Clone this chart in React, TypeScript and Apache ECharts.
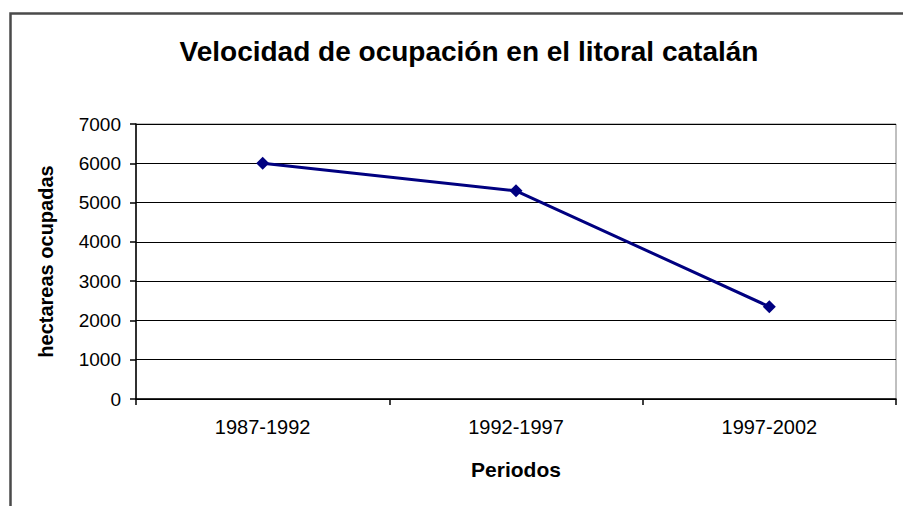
import React, { useEffect, useRef } from "react";
import * as echarts from "echarts";

const titleText = "Velocidad de ocupación en el litoral catalán";
const categories = ["1987-1992", "1992-1997", "1997-2002"];
const hectareas = [6000, 5300, 2350];
const yAxisName = "hectareas ocupadas";
const xAxisName = "Periodos";

const FONT = "'Liberation Sans', Arial, sans-serif";

export default function App() {
  const ref = useRef<HTMLDivElement>(null);
  useEffect(() => {
    if (!ref.current) return;
    const chart = echarts.init(ref.current, null, { renderer: "svg" });
    chart.setOption({
      animation: false,
      backgroundColor: "#ffffff",
      title: {
        text: titleText,
        left: 464,
        top: 32,
        textAlign: "center",
        textStyle: { fontFamily: FONT, fontSize: 28, fontWeight: "bold", color: "#000" },
      },
      graphic: [
        {
          type: "rect",
          shape: { x: 10.5, y: 13.5, width: 1000, height: 1000 },
          style: { fill: "none", stroke: "#4a4a4a", lineWidth: 2.5 },
          silent: true,
        },
      ],
      grid: {
        left: 136,
        right: 7,
        top: 124,
        bottom: 107,
        show: true,
        borderColor: "#808080",
        borderWidth: 1,
        backgroundColor: "transparent",
      },
      xAxis: {
        type: "category",
        data: categories,
        boundaryGap: true,
        name: xAxisName,
        nameLocation: "middle",
        nameGap: 60,
        nameTextStyle: { fontFamily: FONT, fontSize: 21, fontWeight: "bold", color: "#000" },
        axisLine: { show: true, lineStyle: { color: "#000", width: 1.5 } },
        axisTick: { show: true, length: 6, lineStyle: { color: "#000", width: 1.5 } },
        axisLabel: { fontFamily: FONT, fontSize: 20, color: "#000", margin: 18 },
        splitLine: { show: false },
      },
      yAxis: {
        type: "value",
        min: 0,
        max: 7000,
        interval: 1000,
        name: yAxisName,
        nameLocation: "middle",
        nameGap: 80,
        nameTextStyle: { fontFamily: FONT, fontSize: 20, fontWeight: "bold", color: "#000" },
        axisLine: { show: true, lineStyle: { color: "#000", width: 1.5 } },
        axisTick: { show: true, length: 6, lineStyle: { color: "#000", width: 1.5 } },
        axisLabel: {
          fontFamily: FONT,
          fontSize: 19,
          color: "#000",
          margin: 15,
          formatter: (v: number) => String(v),
        },
        splitLine: { show: true, lineStyle: { color: "#000", width: 1.2 } },
      },
      series: [
        {
          type: "line",
          data: hectareas,
          symbol: "diamond",
          symbolSize: 13,
          itemStyle: { color: "#000080" },
          lineStyle: { color: "#000080", width: 3 },
        },
      ],
    });
    return () => chart.dispose();
  }, []);
  return (
    <div
      ref={ref}
      style={{ position: "absolute", left: 0, top: 0, width: 903, height: 506 }}
    />
  );
}
